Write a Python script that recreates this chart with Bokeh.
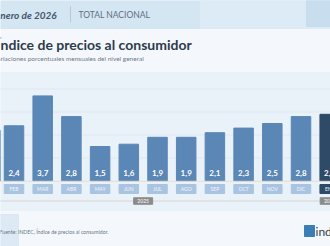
from bokeh.plotting import figure
from bokeh.models import Range1d, ColumnDataSource
from bokeh.core.properties import value
from bokeh.embed import file_html
from bokeh.resources import INLINE

# ---- data ----
months = ["ENE", "FEB", "MAR", "ABR", "MAY", "JUN", "JUL", "AGO", "SEP", "OCT", "NOV", "DIC", "ENE"]
values = [2.2, 2.4, 3.7, 2.8, 1.5, 1.6, 1.9, 1.9, 2.1, 2.3, 2.5, 2.8, 2.9]
years = ["2025"] * 12 + ["2026"]
grid_values = [1, 2, 3, 4]
title = "Índice de precios al consumidor"
subtitle = "Variaciones porcentuales mensuales del nivel general"
header_date = "enero de 2026"
header_scope = "TOTAL NACIONAL"
source_note = "Fuente: INDEC, Índice de precios al consumidor."

# ---- layout helpers (pixel -> data) ----
W, H = 330, 246
PX = 28.7          # pixels per category
PY = 23.0          # pixels per percentage point
x0 = 1 - 13.5 / PX
x1 = x0 + W / PX
y_top = 180.5 / PY
y_bot = y_top - H / PY


def X(px):
    return x0 + px / PX


def Y(py):
    return y_top - py / PY


FONT = value("Lato")

p = figure(width=W, height=H, output_backend="svg", toolbar_location=None,
           x_range=Range1d(x0, x1), y_range=Range1d(y_bot, y_top),
           min_border=0, outline_line_color=None)
p.axis.visible = False
p.grid.visible = False
p.background_fill_color = "#f4f8fc"
p.border_fill_color = "#f4f8fc"

# header band
p.quad(left=[X(-5)], right=[X(335)], top=[Y(-5)], bottom=[Y(28)], color="#d5e6f3")
p.quad(left=[X(200)], right=[X(335)], top=[Y(-5)], bottom=[Y(28)], color="#dcebf6")
p.quad(left=[X(306)], right=[X(335)], top=[Y(0)], bottom=[Y(26)], color="#c3dbee", alpha=0.8)
p.segment(x0=[X(70)], x1=[X(70)], y0=[Y(6)], y1=[Y(22)], line_color="#b5c9da", line_width=1)
p.text(x=[X(-5)], y=[Y(14)], text=[header_date], text_font=FONT, text_font_size="10px",
       text_font_style="bold italic", text_color="#44546a", text_baseline="middle")
p.text(x=[X(78)], y=[Y(14)], text=[header_scope], text_font=FONT, text_font_size="8.5px",
       text_color="#5e6e80", text_baseline="middle")

# title
p.text(x=[X(-4)], y=[Y(44)], text=[title], text_font=FONT, text_font_size="14px",
       text_font_style="bold", text_color="#2e3b4a", text_baseline="middle")
p.text(x=[X(-7)], y=[Y(57.5)], text=[subtitle], text_font=FONT, text_font_size="6.5px",
       text_color="#6f7b88", text_baseline="middle")

# chart panel
p.quad(left=[X(-5)], right=[X(335)], top=[Y(72)], bottom=[Y(210)], color="#e9f1f9")
p.segment(x0=[X(-5)] * len(grid_values), x1=[X(335)] * len(grid_values),
          y0=grid_values, y1=grid_values, line_color="#dfe8f2", line_width=1)

# bars
idx = list(range(len(values)))
colors = ["#5a87b6"] * 12 + ["#2f4a67"]
pill_colors = ["#a9c4e1"] * 12 + ["#2f4a67"]
labels = [f"{v:.1f}".replace(".", ",") for v in values]
src = ColumnDataSource(dict(x=idx, top=values, color=colors, pill=pill_colors,
                            label=labels, month=months))
p.vbar(x="x", top="top", bottom=0, width=19.5 / PX, color="color", source=src)
p.segment(x0=[X(-5)], x1=[X(335)], y0=[Y(180.8)], y1=[Y(180.8)], line_color="#ecdccf", line_width=1)
p.text(x="x", y=Y(172.5), text="label", source=src, text_font=FONT, text_font_size="8px",
       text_font_style="bold", text_color="white", text_align="center", text_baseline="middle")

# month pills
p.rect(x="x", y=Y(188.5), width=19.5 / PX, height=9 / PY, color="pill", source=src)
p.text(x="x", y=Y(188.7), text="month", source=src, text_font=FONT, text_font_size="5px",
       text_color="#f2f6fb", text_align="center", text_baseline="middle")

# year line and pills
p.segment(x0=[X(-5)], x1=[X(335)], y0=[Y(200.5)], y1=[Y(200.5)], line_color="#d8d4d0", line_width=1)
year_x = [5.5, 12]
year_txt = [years[0], years[-1]]
p.rect(x=year_x, y=Y(200.5), width=19 / PX, height=6.5 / PY, color="#8b8b8b")
p.text(x=year_x, y=Y(200.7), text=year_txt, text_font=FONT, text_font_size="5px",
       text_color="white", text_align="center", text_baseline="middle")

# footer
p.quad(left=[X(-5)], right=[X(18)], top=[Y(214)], bottom=[Y(250)], color="#d3e4f2", alpha=0.7)
p.text(x=[X(-1)], y=[Y(231)], text=[source_note], text_font=FONT, text_font_size="5.2px",
       text_color="#6b7785", text_baseline="middle")
p.quad(left=[X(304)], right=[X(314)], top=[Y(225)], bottom=[Y(236)], color="#3b7db5")
p.text(x=[X(315)], y=[Y(230.5)], text=["indec"], text_font=FONT, text_font_size="12px",
       text_color="#2d3e50", text_baseline="middle")

open("out.html", "w").write(file_html(p, INLINE))
